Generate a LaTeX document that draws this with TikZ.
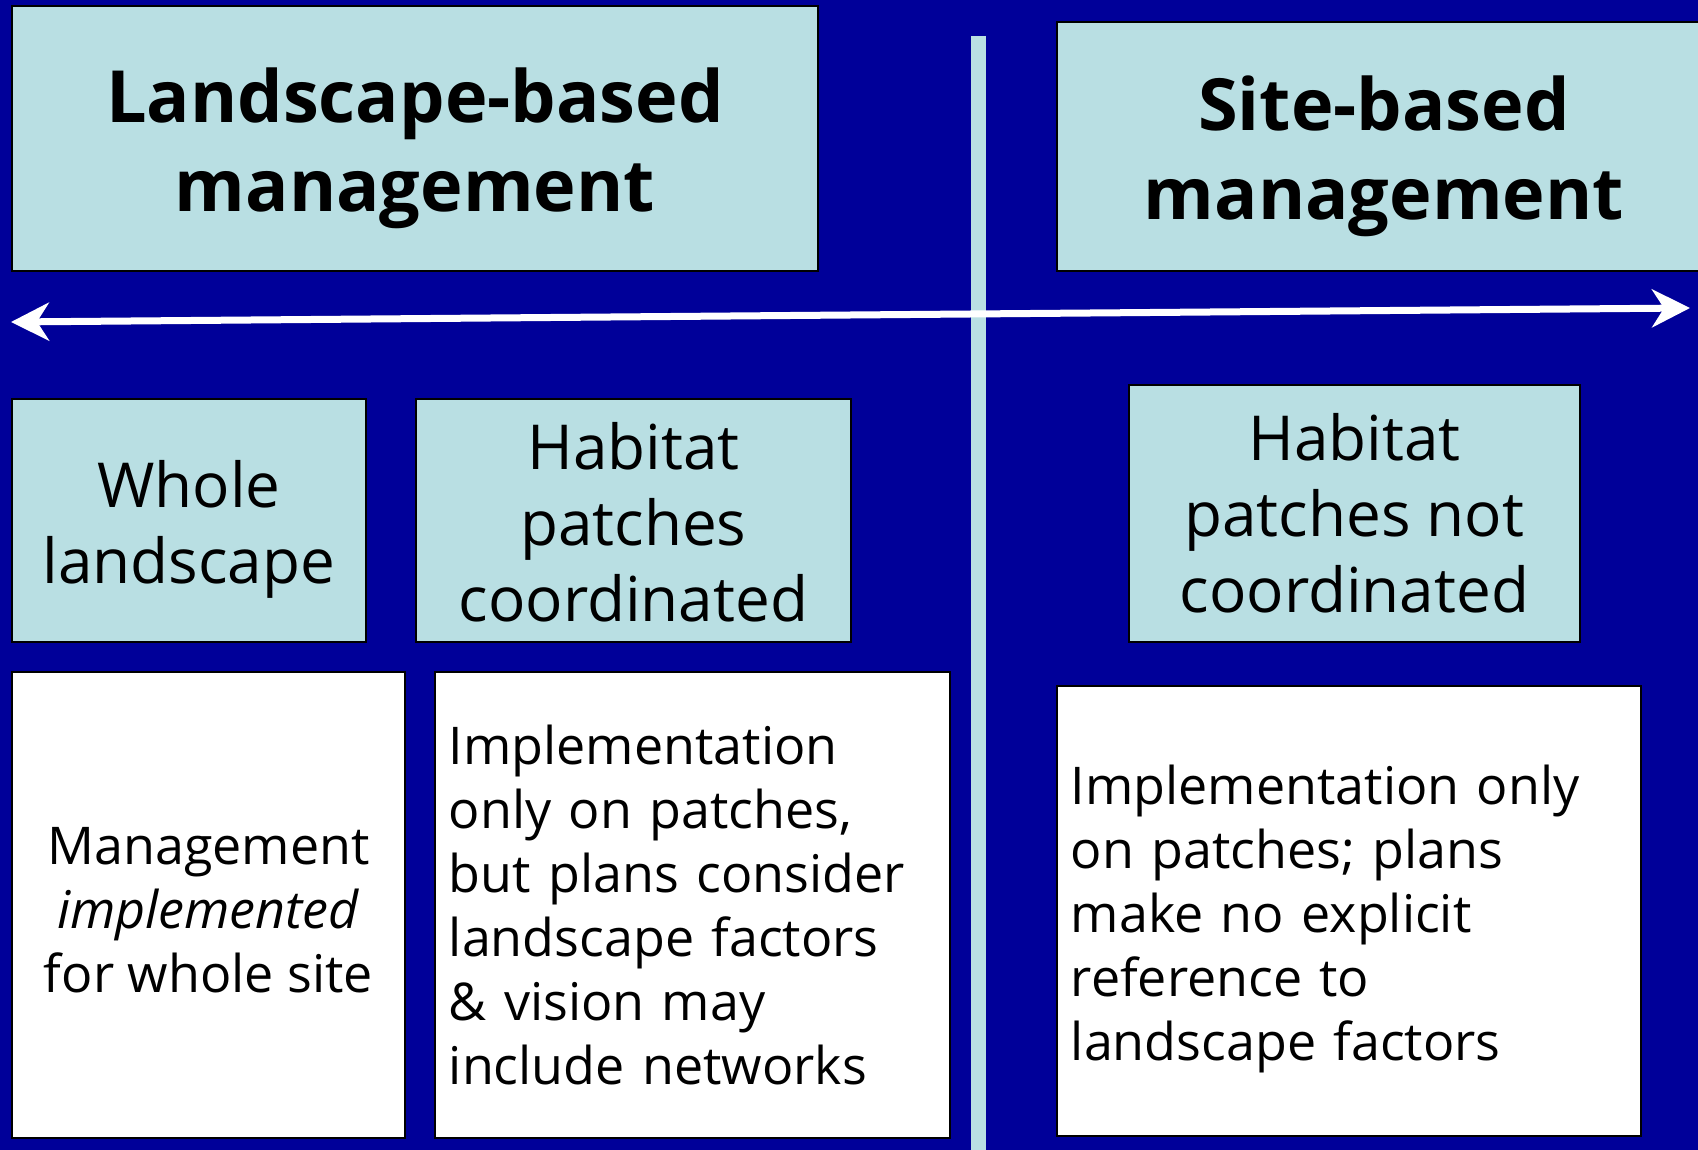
\documentclass[tikz,border=0pt]{standalone}
\usepackage{fontspec}
\setmainfont{Open Sans}
\usetikzlibrary{arrows.meta}
\definecolor{navy}{RGB}{0,0,153}
\definecolor{paleblue}{RGB}{185,223,227}
\begin{document}
\begin{tikzpicture}[x=0.5pt,y=-0.5pt,
  box/.style={draw=black, line width=0.9pt, anchor=north west, inner sep=0pt},
  headbox/.style={box, fill=paleblue},
  catbox/.style={box, fill=paleblue},
  notebox/.style={box, fill=white},
  headtext/.style={inner sep=0pt, align=center,
    font=\fontsize{36pt}{44.5pt}\selectfont\bfseries},
  cattext/.style={inner sep=0pt, align=center,
    font=\fontsize{31pt}{38pt}\selectfont},
  notetext/.style={inner sep=0pt,
    font=\fontsize{26pt}{32pt}\selectfont},
  axis/.style={draw=white, line width=3.5pt,
    {Stealth[length=19pt,width=19pt,inset=6pt]}-{Stealth[length=19pt,width=19pt,inset=6pt]}}
]
% background
\fill[navy] (0,0) rectangle (1698,1150);
\useasboundingbox (0,0) rectangle (1698,1150);

% divider between the two approaches
\coordinate (vtop) at (978,36);
\coordinate (vbot) at (978,1150);
\draw[paleblue, line width=7.5pt] (vtop) -- (vbot);

% headings
\node[headbox, minimum width=403pt, minimum height=132.5pt] (land) at (11,5) {};
\node[headtext] (landlbl) at ([yshift=-5pt]land.center) {Landscape-based\\management};
\node[headbox, minimum width=327pt, minimum height=124.5pt] (site) at (1056,21) {};
\node[headtext] (sitelbl) at ([yshift=-5pt]site.center) {Site-based\\management};

% spectrum arrow
\coordinate (aL) at (11,322);
\coordinate (aR) at (1690,308);
\draw[axis] (aL) -- (aR);

% categories
\node[catbox, minimum width=177pt, minimum height=121.5pt] (whole) at (11,398) {};
\node[cattext] (wholelbl) at ([yshift=-4.5pt]whole.center) {Whole\\landscape};
\node[catbox, minimum width=217.5pt, minimum height=121.5pt] (coord) at (415,398) {};
\node[cattext] (coordlbl) at ([yshift=-1pt]coord.center) {Habitat\\patches\\coordinated};
\node[catbox, minimum width=225.5pt, minimum height=128.5pt] (notcoord) at (1128,384) {};
\node[cattext] (notcoordlbl) at (notcoord.center) {Habitat\\patches not\\coordinated};

% descriptions
\node[notebox, minimum width=196.5pt, minimum height=233pt] (d1) at (11,671) {};
\node[notetext, align=center] (d1lbl) at ([yshift=-2.5pt]d1.center)
  {Management\\\textit{implemented}\\for whole site};
\node[notebox, minimum width=257.5pt, minimum height=233pt] (d2) at (434,671) {};
\node[notetext, align=left, text width=243.5pt] (d2lbl) at (d2.center)
  {Implementation\\only on patches,\\but plans consider\\landscape factors\\\& vision may\\include networks};
\node[notebox, minimum width=292pt, minimum height=225pt] (d3) at (1056,685) {};
\node[notetext, align=left, text width=278pt] (d3lbl) at ([yshift=-4pt]d3.center)
  {Implementation only\\on patches; plans\\make no explicit\\reference to\\landscape factors};
\end{tikzpicture}
\end{document}
